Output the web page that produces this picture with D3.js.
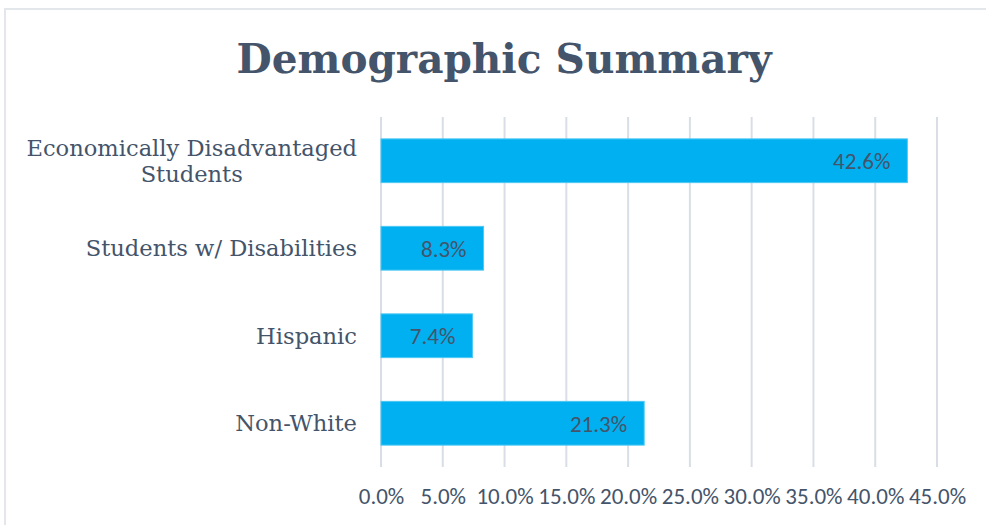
<!DOCTYPE html>
<html>
<head>
<meta charset="utf-8">
<script src="https://cdn.jsdelivr.net/npm/d3@7"></script>
<style>
  body { margin: 0; background: #fff; }
  svg { display: block; }
</style>
</head>
<body>
<svg id="chart" width="986" height="525"></svg>
<script>
// chart data
const categories = ["Economically Disadvantaged Students", "Students w/ Disabilities", "Hispanic", "Non-White"];
const labelLines = [["Economically Disadvantaged", "Students"], ["Students w/ Disabilities"], ["Hispanic"], ["Non-White"]];
const values = [42.6, 8.3, 7.4, 21.3];
const tickValues = [0, 5, 10, 15, 20, 25, 30, 35, 40, 45];

const textColor = "#44546A";
const barColor = "#00B0F0";

const svg = d3.select("#chart");
const margin = { top: 117, right: 49, bottom: 58, left: 381 };
const width = +svg.attr("width") - margin.left - margin.right,
  height = +svg.attr("height") - margin.top - margin.bottom;

// chart border (only top and left edges are inside the picture)
svg.append("rect")
  .attr("x", 5).attr("y", 9)
  .attr("width", 1000).attr("height", 600)
  .attr("fill", "none")
  .attr("stroke", "#E3E6EB")
  .attr("stroke-width", 2);

svg.append("text")
  .attr("x", 504)
  .attr("y", 73)
  .attr("text-anchor", "middle")
  .attr("fill", textColor)
  .style("font-family", "'Century Schoolbook', 'DejaVu Serif', serif")
  .style("font-weight", "bold")
  .style("font-size", "40.6px")
  .text("Demographic Summary");

const x = d3.scaleLinear().domain([0, 45]).range([0, width]);
const y = d3.scaleBand().domain(categories).range([0, height]).paddingInner(0.5).paddingOuter(0.25);

const g = svg.append("g")
  .attr("transform", "translate(" + margin.left + "," + margin.top + ")");

// vertical gridlines
g.append("g")
  .selectAll("line")
  .data(tickValues)
  .join("line")
  .attr("x1", (d) => x(d)).attr("x2", (d) => x(d))
  .attr("y1", 0).attr("y2", height)
  .attr("stroke", "#D9DEE6")
  .attr("stroke-width", 2);

// x axis labels
const xAxis = g.append("g")
  .attr("transform", "translate(0," + height + ")")
  .call(d3.axisBottom(x).tickValues(tickValues).tickSize(0).tickPadding(21).tickFormat((d) => d.toFixed(1) + "%"));
xAxis.select(".domain").remove();
xAxis.selectAll("text")
  .attr("fill", textColor)
  .style("font-family", "Carlito, Calibri, Lato, sans-serif")
  .style("font-size", "23px");

// bars
g.selectAll(".bar")
  .data(values)
  .join("rect")
  .attr("class", "bar")
  .attr("x", x(0))
  .attr("y", (d, i) => y(categories[i]))
  .attr("width", (d) => x(d) - x(0))
  .attr("height", y.bandwidth())
  .attr("fill", barColor)
  .attr("stroke", "#4CC8F4")
  .attr("stroke-width", 1);

// value labels, inside end
g.selectAll(".val")
  .data(values)
  .join("text")
  .attr("class", "val")
  .attr("x", (d) => x(d) - 17)
  .attr("y", (d, i) => y(categories[i]) + y.bandwidth() / 2)
  .attr("dy", "0.36em")
  .attr("text-anchor", "end")
  .attr("fill", textColor)
  .style("font-family", "Carlito, Calibri, Lato, sans-serif")
  .style("font-size", "23px")
  .text((d) => d.toFixed(1) + "%");

// category labels: block right-aligned to the axis, lines centred in it
const cat = g.selectAll(".cat")
  .data(categories)
  .join("text")
  .attr("class", "cat")
  .attr("text-anchor", "middle")
  .attr("fill", textColor)
  .style("font-family", "'Century Schoolbook', 'DejaVu Serif', serif")
  .style("font-size", "22.6px");

cat.each(function (d, i) {
  const lines = labelLines[i];
  const cy = y(d) + y.bandwidth() / 2;
  const t = d3.select(this);
  const lh = 26;
  lines.forEach((line, j) => {
    t.append("tspan")
      .attr("x", 0)
      .attr("y", cy + (j - (lines.length - 1) / 2) * lh)
      .attr("dy", "0.36em")
      .text(line);
  });
  const w = this.getBBox().width;
  t.selectAll("tspan").attr("x", -24 - w / 2);
});
</script>
</body>
</html>
